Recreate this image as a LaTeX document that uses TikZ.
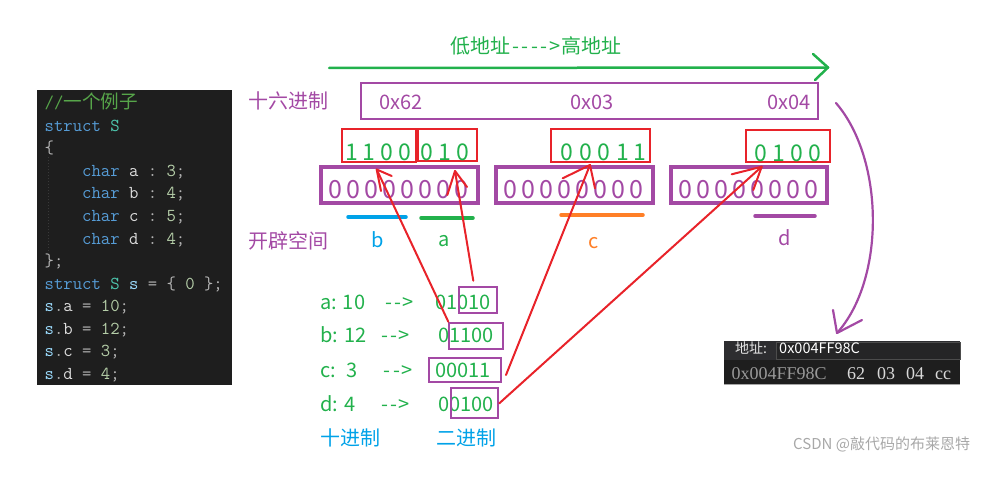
\documentclass[tikz,border=0pt]{standalone}
\usepackage{fontspec}
\setmainfont{Noto Sans CJK SC}
\newfontfamily\cjkfont{Noto Sans CJK SC}
\newfontfamily\memserif{Liberation Serif}
\definecolor{pgreen}{HTML}{22B14C}
\definecolor{ppurple}{HTML}{A349A4}
\definecolor{pred}{HTML}{E8232A}
\definecolor{pblue}{HTML}{00A2E8}
\definecolor{porange}{HTML}{FF7F27}
\definecolor{ckwc}{HTML}{569CD6}
\definecolor{ctyc}{HTML}{4EC9B0}
\definecolor{cidc}{HTML}{DCDCDC}
\definecolor{cnumc}{HTML}{B5CEA8}
\definecolor{ccmc}{HTML}{57A64A}
\definecolor{cvarc}{HTML}{9CDCFE}
\definecolor{cpuc}{HTML}{B4B4B4}
\definecolor{codebg}{HTML}{1E1E1E}
\definecolor{memtop}{HTML}{2D2D30}
\definecolor{memfield}{HTML}{252526}
\definecolor{wmark}{HTML}{A8A8A8}
\newcommand\ckw[1]{\textcolor{ckwc}{#1}}
\newcommand\cty[1]{\textcolor{ctyc}{#1}}
\newcommand\cid[1]{\textcolor{cidc}{#1}}
\newcommand\cnum[1]{\textcolor{cnumc}{#1}}
\newcommand\cpu[1]{\textcolor{cpuc}{#1}}
\newcommand\cvar[1]{\textcolor{cvarc}{#1}}
\newcommand\hyph{\kern1.2pt-\kern1.2pt}
\newcommand\rowarrow{\hyph\hyph>}
\begin{document}
\begin{tikzpicture}[x=1pt,y=-1pt,
  txt/.style={inner sep=0pt, anchor=base west},
  ctr/.style={inner sep=0pt, anchor=base},
  fsz/.style={font=\fontsize{#1}{#1}\selectfont},
  codeline/.style={inner sep=0pt, anchor=base west, font=\ttfamily\fontsize{18.2}{20}\selectfont, text=cidc},
  redbox/.style={draw=pred, line width=2pt, inner sep=0pt},
  bytebox/.style={draw=ppurple, line width=4pt, inner sep=0pt},
  thinpbox/.style={draw=ppurple, line width=2pt, inner sep=0pt},
  bitdig/.style={ctr, fsz=25, text=ppurple},
  topdig/.style={ctr, fsz=23, text=pgreen},
  redarrow/.style={draw=pred, line width=2pt, line cap=round, line join=round},
  uline/.style={line width=3.5pt, line cap=round},
]
\useasboundingbox (0,0) rectangle (994,484);

% ---------- code panel ----------
\fill[codebg] (37,90) rectangle (232,385);
\draw[gray!45!black, dotted, line width=1pt] (48.3,157) -- (48.3,252);
\node[codeline] (l0) at (44.5,109) {\textcolor{ccmc}{//{\cjkfont\fontsize{18.6}{20}\selectfont 一个例子}}};
\node[codeline] (l1) at (44.5,131.5) {\ckw{struct}~\cty{S}};
\node[codeline] (l2) at (44.5,154) {\cpu{\{}};
\node[codeline] (l3) at (44.5,176.5) {~~~~\ckw{char}~\cid{a}~\cpu{:}~\cnum{3}\cpu{;}};
\node[codeline] (l4) at (44.5,199) {~~~~\ckw{char}~\cid{b}~\cpu{:}~\cnum{4}\cpu{;}};
\node[codeline] (l5) at (44.5,221.5) {~~~~\ckw{char}~\cid{c}~\cpu{:}~\cnum{5}\cpu{;}};
\node[codeline] (l6) at (44.5,244) {~~~~\ckw{char}~\cid{d}~\cpu{:}~\cnum{4}\cpu{;}};
\node[codeline] (l7) at (44.5,266.5) {\cpu{\};}};
\node[codeline] (l8) at (44.5,289) {\ckw{struct}~\cty{S}~\cvar{s}~\cpu{=}~\cpu{\{}~\cnum{0}~\cpu{\};}};
\node[codeline] (l9) at (44.5,311.5) {\cvar{s}\cpu{.}\cid{a}~\cpu{=}~\cnum{10}\cpu{;}};
\node[codeline] (l10) at (44.5,334) {\cvar{s}\cpu{.}\cid{b}~\cpu{=}~\cnum{12}\cpu{;}};
\node[codeline] (l11) at (44.5,356.5) {\cvar{s}\cpu{.}\cid{c}~\cpu{=}~\cnum{3}\cpu{;}};
\node[codeline] (l12) at (44.5,379) {\cvar{s}\cpu{.}\cid{d}~\cpu{=}~\cnum{4}\cpu{;}};

% ---------- address direction ----------
\node[txt, fsz=20, text=pgreen] (dir) at (450,54) {低地址\kern1pt\hyph\hyph\hyph\hyph\kern1pt>\kern1pt高地址};
\coordinate (gstart) at (329,68);
\coordinate (gend) at (828,67.5);
\draw[pgreen, line width=2.5pt, line cap=round] (gstart) -- (gend);
\draw[pgreen, line width=2.5pt, line cap=round, line join=round] (813,54) -- (gend) -- (815,80);

% ---------- hex row ----------
\node[txt, fsz=20, text=ppurple] (hexlbl) at (248,108.5) {十六进制};
\node[draw=ppurple, line width=2pt, inner sep=0pt, minimum width=457pt, minimum height=36pt] (hexbox) at (589.3,101) {};
\node[txt, fsz=20, text=ppurple] (h62) at (379,110) {0x62};
\node[txt, fsz=20, text=ppurple] (h03) at (570,110) {0x03};
\node[txt, fsz=20, text=ppurple] (h04) at (767,110) {0x04};

% ---------- red bit boxes ----------
\node[redbox, minimum width=74pt, minimum height=33pt] (rb1) at (379,145.5) {};
\node[redbox, minimum width=59pt, minimum height=32pt] (rb2) at (447.5,145) {};
\node[redbox, minimum width=99pt, minimum height=33pt] (rb3) at (600.5,145.5) {};
\node[redbox, minimum width=84pt, minimum height=32pt] (rb4) at (788,146) {};
\node[topdig] (t11) at (351.7,160.5) {1};
\node[topdig] (t12) at (368.5,160.5) {1};
\node[topdig] (t13) at (386.7,160.5) {0};
\node[topdig] (t14) at (405,160.5) {0};
\node[topdig] (t21) at (426.7,160.5) {0};
\node[topdig] (t22) at (445,160.5) {1};
\node[topdig] (t23) at (463,160.5) {0};
\node[topdig] (t31) at (567,161) {0};
\node[topdig] (t32) at (585.5,161) {0};
\node[topdig] (t33) at (604,161) {0};
\node[topdig] (t34) at (622.5,161) {1};
\node[topdig] (t35) at (640,161) {1};
\node[topdig] (t41) at (761,162) {0};
\node[topdig] (t42) at (779,162) {1};
\node[topdig] (t43) at (797,162) {0};
\node[topdig] (t44) at (815,162) {0};

% ---------- byte boxes ----------
\node[bytebox, minimum width=157pt, minimum height=36pt] (by1) at (399.5,185) {};
\node[bytebox, minimum width=157pt, minimum height=36pt] (by2) at (574.5,185) {};
\node[bytebox, minimum width=156pt, minimum height=36pt] (by3) at (749,185) {};
\foreach \i in {0,...,7}{
  \node[bitdig] (ba\i) at (335+18.1*\i,199) {0};
  \node[bitdig] (bb\i) at (510+18.1*\i,199) {0};
  \node[bitdig] (bc\i) at (685+18.1*\i,199) {0};
}

% ---------- underlines and field labels ----------
\draw[uline, pblue] (348,217) -- (406,217);
\draw[uline, pgreen] (421,218) -- (473,218);
\draw[uline, porange] (561,215) -- (643,215);
\draw[uline, ppurple] (755,216) -- (815,216);
\node[txt, fsz=20, text=ppurple] (kp) at (248,248) {开辟空间};
\node[ctr, fsz=20, text=pblue] (lb) at (377.5,247.5) {b};
\node[ctr, fsz=20, text=pgreen] (la) at (444.5,247) {a};
\node[ctr, fsz=20, text=porange] (lc) at (594,248) {c};
\node[ctr, fsz=20, text=ppurple] (ld) at (785,245) {d};

% ---------- decimal / binary rows ----------
\node[txt, fsz=20, text=pgreen] (ra1) at (320,309) {a: 10};
\node[txt, fsz=20, text=pgreen] (ra2) at (384,309) {\rowarrow};
\node[txt, fsz=20, text=pgreen] (ra3) at (435,309) {01010};
\node[txt, fsz=20, text=pgreen] (rb1t) at (320,342.7) {b: 12};
\node[txt, fsz=20, text=pgreen] (rb2t) at (380,342.7) {\rowarrow};
\node[txt, fsz=20, text=pgreen] (rb3t) at (438.3,342.7) {01100};
\node[txt, fsz=20, text=pgreen] (rc1) at (320,377.3) {c:};
\node[txt, fsz=20, text=pgreen] (rc1b) at (346.7,377.3) {3};
\node[txt, fsz=20, text=pgreen] (rc2) at (382.3,377.3) {\rowarrow};
\node[txt, fsz=20, text=pgreen] (rc3) at (435,377.3) {00011};
\node[txt, fsz=20, text=pgreen] (rd1) at (320,411.7) {d: 4};
\node[txt, fsz=20, text=pgreen] (rd2) at (380,411.7) {\rowarrow};
\node[txt, fsz=20, text=pgreen] (rd3) at (438.3,411.7) {00100};
\node[txt, fsz=20, text=pblue] (dec) at (320,445.5) {十进制};
\node[txt, fsz=20, text=pblue] (bin) at (436.7,445.5) {二进制};

\node[thinpbox, minimum width=38pt, minimum height=26.6pt] (sa) at (478.3,300) {};
\node[thinpbox, minimum width=53.4pt, minimum height=26.6pt] (sb) at (476,336) {};
\node[thinpbox, minimum width=71.7pt, minimum height=23.4pt] (sc) at (464.8,370) {};
\node[thinpbox, minimum width=47.6pt, minimum height=30pt] (sd) at (474.5,403.3) {};

% ---------- red arrows ----------
\coordinate (asrc) at (473.3,280.7);
\coordinate (atip) at (455,171);
\coordinate (bsrc) at (sb.north west);
\coordinate (btip) at (376.7,169.5);
\coordinate (csrc) at (506,375);
\coordinate (ctip) at (590,165);
\coordinate (dsrc) at (sd.east);
\coordinate (dtip) at (761.7,166.7);
\draw[redarrow] (asrc) -- (atip);
\draw[redarrow] (447.3,195) -- (atip) -- (467,187);
\draw[redarrow] (bsrc) -- (btip);
\draw[redarrow] (391.7,176) -- (btip) -- (381,191);
\draw[redarrow] (csrc) -- (ctip);
\draw[redarrow] (562.7,178.3) -- (ctip) -- (595,188.3);
\draw[redarrow] (dsrc) -- (dtip);
\draw[redarrow] (731.7,174.3) -- (dtip) -- (753.3,190);

% ---------- purple curved arrow ----------
\coordinate (pcs) at (836,103);
\coordinate (pce) at (837,333);
\draw[ppurple, line width=2.2pt, line cap=round] (pcs) .. controls (885,160) and (885,280) .. (pce);
\draw[ppurple, line width=2.2pt, line cap=round, line join=round] (833,310) -- (pce) -- (862,320);

% ---------- memory window ----------
\fill[codebg] (724,341) rectangle (960,384);
\fill[memtop] (724,341) rectangle (960,360);
\draw[fill=memfield, draw=gray!60!black, line width=0.6pt] (776,342) rectangle (960,359);
\draw[gray!70, line width=0.8pt] (724,384) -- (960,384);
\node[txt, fsz=14, text=white!90!black] (maddr) at (735,353.5) {地址:};
\node[txt, fsz=14.5, text=white] (mval) at (779,353.5) {0x004FF98C};
\node[txt, font=\memserif\fontsize{18}{18}\selectfont, text=gray!80!white] (mrow) at (731.5,379) {0x004FF98C};
\node[txt, font=\memserif\fontsize{18}{18}\selectfont, text=white!85!black] (m62) at (847,379) {62};
\node[txt, font=\memserif\fontsize{18}{18}\selectfont, text=white!85!black] (m03) at (877,379) {03};
\node[txt, font=\memserif\fontsize{18}{18}\selectfont, text=white!85!black] (m04) at (906,379) {04};
\node[txt, font=\memserif\fontsize{18}{18}\selectfont, text=white!85!black] (mcc) at (935,379) {cc};

% ---------- watermark ----------
\node[txt, fsz=15, text=wmark] (wm) at (793,449) {CSDN @敲代码的布莱恩特};
\end{tikzpicture}
\end{document}
